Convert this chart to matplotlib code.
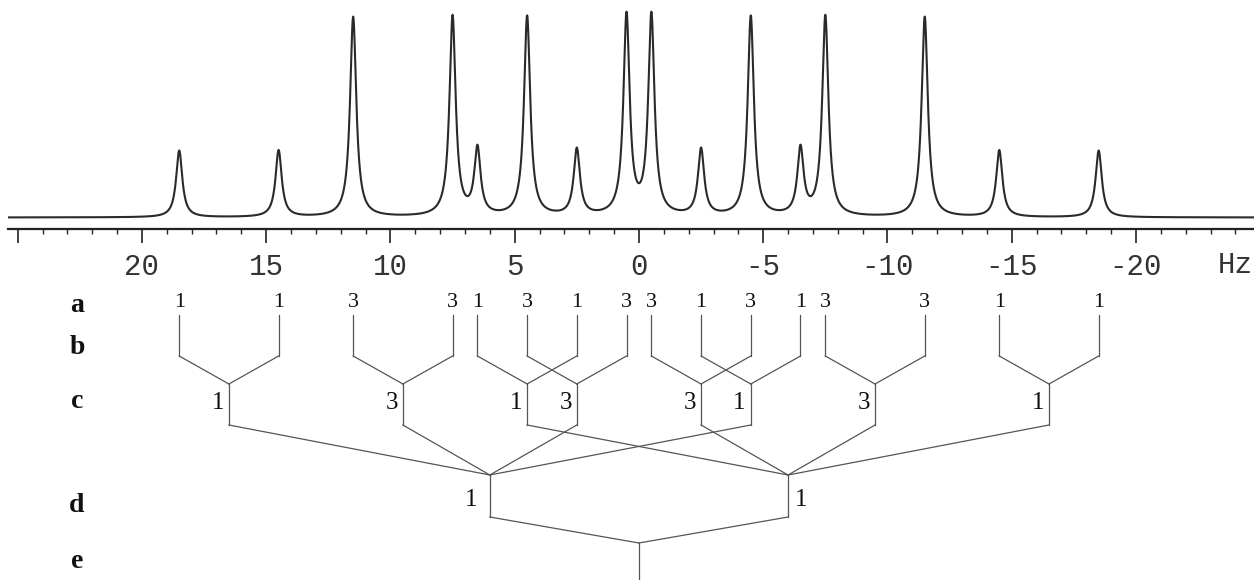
import numpy as np
import matplotlib
matplotlib.use('Agg')
import matplotlib.pyplot as plt
from matplotlib.ticker import FixedLocator, FixedFormatter
from matplotlib import transforms

# line positions (Hz) and relative intensities, level a of the tree
a_pos = [18.5, 14.5, 11.5, 7.5, 4.5, 0.5, -2.5, -6.5,
         6.5, 2.5, -0.5, -4.5, -7.5, -11.5, -14.5, -18.5]
a_int = [1, 1, 3, 3, 3, 3, 1, 1, 1, 1, 3, 3, 3, 3, 1, 1]
a_parent = [0, 0, 1, 1, 2, 2, 3, 3, 4, 4, 5, 5, 6, 6, 7, 7]

# level c nodes
c_pos = [16.5, 9.5, 2.5, -4.5, 4.5, -2.5, -9.5, -16.5]
c_int = [1, 3, 3, 1, 1, 3, 3, 1]
c_parent = [0, 0, 0, 0, 1, 1, 1, 1]

# level d nodes and the centre (e)
d_pos = [6.0, -6.0]
d_int = [1, 1]
e_pos = 0.0

row_labels = ['a', 'b', 'c', 'd', 'e']
major_ticks = [25, 20, 15, 10, 5, 0, -5, -10, -15, -20]
major_labels = ['', '20', '15', '10', '5', '0', '-5', '-10', '-15', '-20']
minor_ticks = list(range(-24, 26))

W, H = 1254, 580
xlim = (25.39, -24.75)
hwhm = 0.15

fig = plt.figure(figsize=(W / 100, H / 100), dpi=100)
fig.patch.set_facecolor('white')

# ---- spectrum ----
ax = fig.add_axes([8 / W, 1 - 229 / H, (W - 8) / W, 229 / H])
x = np.linspace(xlim[0], xlim[1], 8000)
y = np.zeros_like(x)
for p, i in zip(a_pos, a_int):
    y += i * hwhm**2 / ((x - p)**2 + hwhm**2)
ax.plot(x, y, color='#2a2a2a', lw=1.5)
ax.set_xlim(*xlim)
ax.set_ylim(-0.172, 3.26)
for s in ['left', 'right', 'top']:
    ax.spines[s].set_visible(False)
ax.spines['bottom'].set_linewidth(1.6)
ax.spines['bottom'].set_color('#222222')
ax.set_yticks([])
ax.xaxis.set_major_locator(FixedLocator(major_ticks))
ax.xaxis.set_major_formatter(FixedFormatter(major_labels))
ax.xaxis.set_minor_locator(FixedLocator(minor_ticks))
ax.tick_params(axis='x', which='major', direction='out', length=10, width=1.2,
               colors='#222222', pad=7, labelsize=21)
ax.tick_params(axis='x', which='minor', direction='out', length=3.5, width=1.0,
               colors='#222222')
for lab in ax.get_xticklabels():
    lab.set_fontfamily('Liberation Mono')
    lab.set_color('#333333')
ax.text((1235 - 8) / (W - 8), -36 / 229, 'Hz', transform=ax.transAxes,
        ha='center', va='center', fontsize=21, family='Liberation Mono',
        color='#333333')

# ---- splitting tree (y in pixel rows) ----
tx = fig.add_axes([8 / W, 0, (W - 8) / W, (H - 229) / H])
tx.set_xlim(*xlim)
tx.set_ylim(H, 229)
tx.axis('off')
lc = '#555555'
lw = 0.9

for p, par in zip(a_pos, a_parent):
    tx.plot([p, p], [315, 356], color=lc, lw=lw)
    tx.plot([p, c_pos[par]], [356, 384], color=lc, lw=lw)
for p, par in zip(c_pos, c_parent):
    tx.plot([p, p], [384, 425], color=lc, lw=lw)
    tx.plot([p, d_pos[par]], [425, 475], color=lc, lw=lw)
for p in d_pos:
    tx.plot([p, p], [475, 517], color=lc, lw=lw)
    tx.plot([p, e_pos], [517, 543], color=lc, lw=lw)
tx.plot([e_pos, e_pos], [543, H + 5], color=lc, lw=lw)

serif = 'Liberation Serif'
for p, i in zip(a_pos, a_int):
    tx.text(p, 307, str(i), ha='center', va='baseline', fontsize=16,
            family=serif, color='#111111')

left_off = transforms.offset_copy(tx.transData, fig=fig, x=-5, y=0, units='dots')
for p, i in zip(c_pos, c_int):
    tx.text(p, 409, str(i), ha='right', va='baseline', fontsize=18,
            family=serif, color='#111111', transform=left_off)

dl = transforms.offset_copy(tx.transData, fig=fig, x=-12, y=0, units='dots')
dr = transforms.offset_copy(tx.transData, fig=fig, x=7, y=0, units='dots')
tx.text(d_pos[0], 506, str(d_int[0]), ha='right', va='baseline', fontsize=18,
        family=serif, color='#111111', transform=dl)
tx.text(d_pos[1], 506, str(d_int[1]), ha='left', va='baseline', fontsize=18,
        family=serif, color='#111111', transform=dr)

# bold row letters at the left
row_base = [312, 354, 408, 512, 568]
for lab, yb in zip(row_labels, row_base):
    fig.text(77 / W, 1 - yb / H, lab, ha='center', va='baseline', fontsize=20,
             family=serif, fontweight='bold', color='#111111')

fig.savefig('out.png', dpi=100, facecolor='white')
